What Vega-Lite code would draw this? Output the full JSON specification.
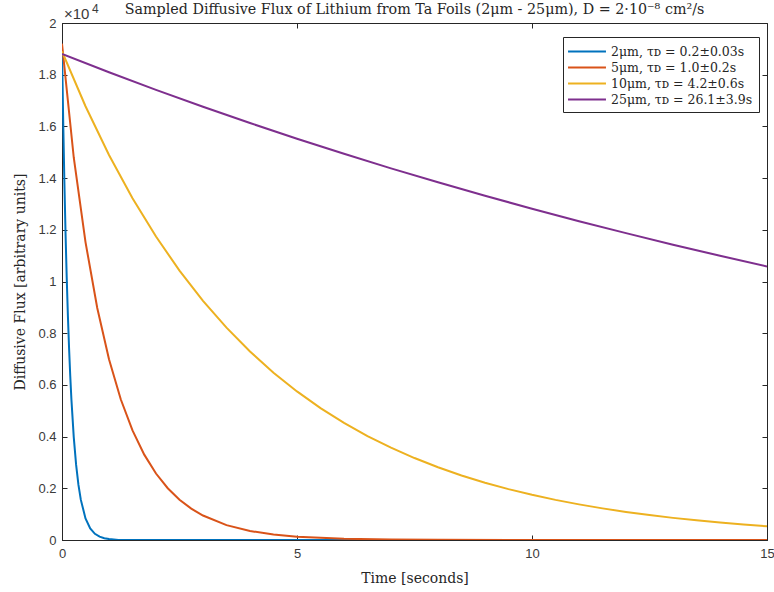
{
  "$schema": "https://vega.github.io/schema/vega-lite/v6.json",
  "width": 705,
  "height": 517,
  "autosize": {"type": "none"},
  "padding": {"left": 62, "top": 23, "right": 7, "bottom": 52},
  "background": "white",
  "title": {
    "text": "Sampled Diffusive Flux of Lithium from Ta Foils (2μm - 25μm), D = 2·10⁻⁸ cm²/s",
    "font": "DejaVu Serif",
    "fontSize": 14.3,
    "fontWeight": "normal",
    "color": "#262626",
    "anchor": "middle",
    "offset": -14
  },
  "config": {
    "view": {"stroke": "#262626", "strokeWidth": 1},
    "axis": {
      "domainColor": "#262626",
      "tickColor": "#262626",
      "tickSize": -5,
      "grid": false,
      "labelFont": "Liberation Sans",
      "labelFontSize": 13,
      "labelColor": "#3a3a3a",
      "labelFlush": false,
      "titleFont": "DejaVu Serif",
      "titleFontSize": 14,
      "titleFontWeight": "normal",
      "titleColor": "#262626"
    },
    "legend": {
      "labelFont": "DejaVu Serif",
      "labelFontSize": 12.5,
      "labelColor": "#262626",
      "strokeColor": "#262626",
      "fillColor": "white",
      "padding": 6,
      "rowPadding": 1,
      "symbolType": "M-2.53,0H2.53",
      "symbolSize": 225,
      "symbolOffset": 9.5,
      "symbolStrokeWidth": 2,
      "labelOffset": 15.5
    }
  },
  "datasets": {
    "flux": [
      {"s": "2μm, τᴅ = 0.2±0.03s", "t": 0, "f": 19000},
      {"s": "2μm, τᴅ = 0.2±0.03s", "t": 0.025, "f": 16250},
      {"s": "2μm, τᴅ = 0.2±0.03s", "t": 0.05, "f": 13900},
      {"s": "2μm, τᴅ = 0.2±0.03s", "t": 0.075, "f": 11890},
      {"s": "2μm, τᴅ = 0.2±0.03s", "t": 0.1, "f": 10170},
      {"s": "2μm, τᴅ = 0.2±0.03s", "t": 0.125, "f": 8700},
      {"s": "2μm, τᴅ = 0.2±0.03s", "t": 0.15, "f": 7440},
      {"s": "2μm, τᴅ = 0.2±0.03s", "t": 0.175, "f": 6365},
      {"s": "2μm, τᴅ = 0.2±0.03s", "t": 0.2, "f": 5444},
      {"s": "2μm, τᴅ = 0.2±0.03s", "t": 0.25, "f": 3982},
      {"s": "2μm, τᴅ = 0.2±0.03s", "t": 0.3, "f": 2914},
      {"s": "2μm, τᴅ = 0.2±0.03s", "t": 0.35, "f": 2132},
      {"s": "2μm, τᴅ = 0.2±0.03s", "t": 0.4, "f": 1560},
      {"s": "2μm, τᴅ = 0.2±0.03s", "t": 0.5, "f": 835},
      {"s": "2μm, τᴅ = 0.2±0.03s", "t": 0.6, "f": 447},
      {"s": "2μm, τᴅ = 0.2±0.03s", "t": 0.7, "f": 239},
      {"s": "2μm, τᴅ = 0.2±0.03s", "t": 0.8, "f": 128},
      {"s": "2μm, τᴅ = 0.2±0.03s", "t": 0.9, "f": 68},
      {"s": "2μm, τᴅ = 0.2±0.03s", "t": 1.0, "f": 37},
      {"s": "2μm, τᴅ = 0.2±0.03s", "t": 1.1, "f": 20},
      {"s": "2μm, τᴅ = 0.2±0.03s", "t": 1.2, "f": 0},
      {"s": "2μm, τᴅ = 0.2±0.03s", "t": 15, "f": 0},

      {"s": "5μm, τᴅ = 1.0±0.2s", "t": 0, "f": 19200},
      {"s": "5μm, τᴅ = 1.0±0.2s", "t": 0.25, "f": 14797},
      {"s": "5μm, τᴅ = 1.0±0.2s", "t": 0.5, "f": 11524},
      {"s": "5μm, τᴅ = 1.0±0.2s", "t": 0.75, "f": 8976},
      {"s": "5μm, τᴅ = 1.0±0.2s", "t": 1.0, "f": 6990},
      {"s": "5μm, τᴅ = 1.0±0.2s", "t": 1.25, "f": 5444},
      {"s": "5μm, τᴅ = 1.0±0.2s", "t": 1.5, "f": 4239},
      {"s": "5μm, τᴅ = 1.0±0.2s", "t": 1.75, "f": 3302},
      {"s": "5μm, τᴅ = 1.0±0.2s", "t": 2.0, "f": 2571},
      {"s": "5μm, τᴅ = 1.0±0.2s", "t": 2.25, "f": 2003},
      {"s": "5μm, τᴅ = 1.0±0.2s", "t": 2.5, "f": 1560},
      {"s": "5μm, τᴅ = 1.0±0.2s", "t": 2.75, "f": 1214},
      {"s": "5μm, τᴅ = 1.0±0.2s", "t": 3.0, "f": 946},
      {"s": "5μm, τᴅ = 1.0±0.2s", "t": 3.5, "f": 574},
      {"s": "5μm, τᴅ = 1.0±0.2s", "t": 4.0, "f": 348},
      {"s": "5μm, τᴅ = 1.0±0.2s", "t": 4.5, "f": 211},
      {"s": "5μm, τᴅ = 1.0±0.2s", "t": 5.0, "f": 127},
      {"s": "5μm, τᴅ = 1.0±0.2s", "t": 6.0, "f": 48},
      {"s": "5μm, τᴅ = 1.0±0.2s", "t": 7.0, "f": 17},
      {"s": "5μm, τᴅ = 1.0±0.2s", "t": 8.0, "f": 6},
      {"s": "5μm, τᴅ = 1.0±0.2s", "t": 10.0, "f": 0},
      {"s": "5μm, τᴅ = 1.0±0.2s", "t": 15.0, "f": 0},

      {"s": "10μm, τᴅ = 4.2±0.6s", "t": 0, "f": 18900},
      {"s": "10μm, τᴅ = 4.2±0.6s", "t": 0.5, "f": 16780},
      {"s": "10μm, τᴅ = 4.2±0.6s", "t": 1.0, "f": 14895},
      {"s": "10μm, τᴅ = 4.2±0.6s", "t": 1.5, "f": 13224},
      {"s": "10μm, τᴅ = 4.2±0.6s", "t": 2.0, "f": 11739},
      {"s": "10μm, τᴅ = 4.2±0.6s", "t": 2.5, "f": 10421},
      {"s": "10μm, τᴅ = 4.2±0.6s", "t": 3.0, "f": 9252},
      {"s": "10μm, τᴅ = 4.2±0.6s", "t": 3.5, "f": 8214},
      {"s": "10μm, τᴅ = 4.2±0.6s", "t": 4.0, "f": 7292},
      {"s": "10μm, τᴅ = 4.2±0.6s", "t": 4.5, "f": 6473},
      {"s": "10μm, τᴅ = 4.2±0.6s", "t": 5.0, "f": 5747},
      {"s": "10μm, τᴅ = 4.2±0.6s", "t": 5.5, "f": 5101},
      {"s": "10μm, τᴅ = 4.2±0.6s", "t": 6.0, "f": 4530},
      {"s": "10μm, τᴅ = 4.2±0.6s", "t": 6.5, "f": 4020},
      {"s": "10μm, τᴅ = 4.2±0.6s", "t": 7.0, "f": 3570},
      {"s": "10μm, τᴅ = 4.2±0.6s", "t": 7.5, "f": 3170},
      {"s": "10μm, τᴅ = 4.2±0.6s", "t": 8.0, "f": 2814},
      {"s": "10μm, τᴅ = 4.2±0.6s", "t": 8.5, "f": 2497},
      {"s": "10μm, τᴅ = 4.2±0.6s", "t": 9.0, "f": 2217},
      {"s": "10μm, τᴅ = 4.2±0.6s", "t": 9.5, "f": 1967},
      {"s": "10μm, τᴅ = 4.2±0.6s", "t": 10.0, "f": 1748},
      {"s": "10μm, τᴅ = 4.2±0.6s", "t": 10.5, "f": 1552},
      {"s": "10μm, τᴅ = 4.2±0.6s", "t": 11.0, "f": 1378},
      {"s": "10μm, τᴅ = 4.2±0.6s", "t": 11.5, "f": 1223},
      {"s": "10μm, τᴅ = 4.2±0.6s", "t": 12.0, "f": 1085},
      {"s": "10μm, τᴅ = 4.2±0.6s", "t": 12.5, "f": 964},
      {"s": "10μm, τᴅ = 4.2±0.6s", "t": 13.0, "f": 856},
      {"s": "10μm, τᴅ = 4.2±0.6s", "t": 13.5, "f": 760},
      {"s": "10μm, τᴅ = 4.2±0.6s", "t": 14.0, "f": 675},
      {"s": "10μm, τᴅ = 4.2±0.6s", "t": 14.5, "f": 599},
      {"s": "10μm, τᴅ = 4.2±0.6s", "t": 15.0, "f": 531},

      {"s": "25μm, τᴅ = 26.1±3.9s", "t": 0, "f": 18800},
      {"s": "25μm, τᴅ = 26.1±3.9s", "t": 1, "f": 18093},
      {"s": "25μm, τᴅ = 26.1±3.9s", "t": 2, "f": 17413},
      {"s": "25μm, τᴅ = 26.1±3.9s", "t": 3, "f": 16759},
      {"s": "25μm, τᴅ = 26.1±3.9s", "t": 4, "f": 16129},
      {"s": "25μm, τᴅ = 26.1±3.9s", "t": 5, "f": 15522},
      {"s": "25μm, τᴅ = 26.1±3.9s", "t": 6, "f": 14939},
      {"s": "25μm, τᴅ = 26.1±3.9s", "t": 7, "f": 14377},
      {"s": "25μm, τᴅ = 26.1±3.9s", "t": 8, "f": 13837},
      {"s": "25μm, τᴅ = 26.1±3.9s", "t": 9, "f": 13317},
      {"s": "25μm, τᴅ = 26.1±3.9s", "t": 10, "f": 12816},
      {"s": "25μm, τᴅ = 26.1±3.9s", "t": 11, "f": 12334},
      {"s": "25μm, τᴅ = 26.1±3.9s", "t": 12, "f": 11871},
      {"s": "25μm, τᴅ = 26.1±3.9s", "t": 13, "f": 11425},
      {"s": "25μm, τᴅ = 26.1±3.9s", "t": 14, "f": 10995},
      {"s": "25μm, τᴅ = 26.1±3.9s", "t": 15, "f": 10582}
    ],
    "exponent": [
      {"t": 0, "f": 20000, "base": "×10", "power": "4"}
    ]
  },
  "resolve": {"axis": {"x": "independent", "y": "independent"}},
  "layer": [
    {
      "data": {"name": "flux"},
      "mark": {"type": "line", "strokeWidth": 2, "clip": true},
      "encoding": {
        "x": {
          "field": "t",
          "type": "quantitative",
          "scale": {"domain": [0, 15], "nice": false, "zero": false},
          "axis": {"orient": "bottom", "values": [0, 5, 10, 15], "title": "Time [seconds]", "labelPadding": 12, "titlePadding": 11}
        },
        "y": {
          "field": "f",
          "type": "quantitative",
          "scale": {"domain": [0, 20000], "nice": false},
          "axis": {
            "orient": "left",
            "values": [0, 2000, 4000, 6000, 8000, 10000, 12000, 14000, 16000, 18000, 20000],
            "labelExpr": "datum.value / 10000 + ''",
            "title": "Diffusive Flux [arbitrary units]",
            "labelPadding": 11,
            "titlePadding": 10
          }
        },
        "color": {
          "field": "s",
          "type": "nominal",
          "scale": {
            "domain": ["2μm, τᴅ = 0.2±0.03s", "5μm, τᴅ = 1.0±0.2s", "10μm, τᴅ = 4.2±0.6s", "25μm, τᴅ = 26.1±3.9s"],
            "range": ["#0072BD", "#D95319", "#EDB120", "#7E2F8E"]
          },
          "legend": {"title": null, "orient": "none", "legendX": 501, "legendY": 14}
        },
        "order": {"field": "t", "type": "quantitative"}
      }
    },
    {
      "data": {"name": "exponent"},
      "mark": {"type": "text", "align": "left", "baseline": "alphabetic", "dx": 2, "dy": -4, "font": "Liberation Sans", "fontSize": 15, "color": "#3a3a3a"},
      "encoding": {
        "x": {
          "field": "t",
          "type": "quantitative",
          "scale": {"domain": [0, 15], "nice": false, "zero": false},
          "axis": {"orient": "top", "values": [0, 5, 10, 15], "labels": false, "title": null, "domain": false}
        },
        "y": {
          "field": "f",
          "type": "quantitative",
          "scale": {"domain": [0, 20000], "nice": false},
          "axis": {"orient": "right", "values": [0, 2000, 4000, 6000, 8000, 10000, 12000, 14000, 16000, 18000, 20000], "labels": false, "title": null, "domain": false}
        },
        "text": {"field": "base"}
      }
    },
    {
      "data": {"name": "exponent"},
      "mark": {"type": "text", "align": "left", "baseline": "alphabetic", "dx": 30, "dy": -10, "font": "Liberation Sans", "fontSize": 12, "color": "#3a3a3a"},
      "encoding": {
        "x": {"field": "t", "type": "quantitative", "scale": {"domain": [0, 15], "nice": false, "zero": false}, "axis": null},
        "y": {"field": "f", "type": "quantitative", "scale": {"domain": [0, 20000], "nice": false}, "axis": null},
        "text": {"field": "power"}
      }
    }
  ]
}
